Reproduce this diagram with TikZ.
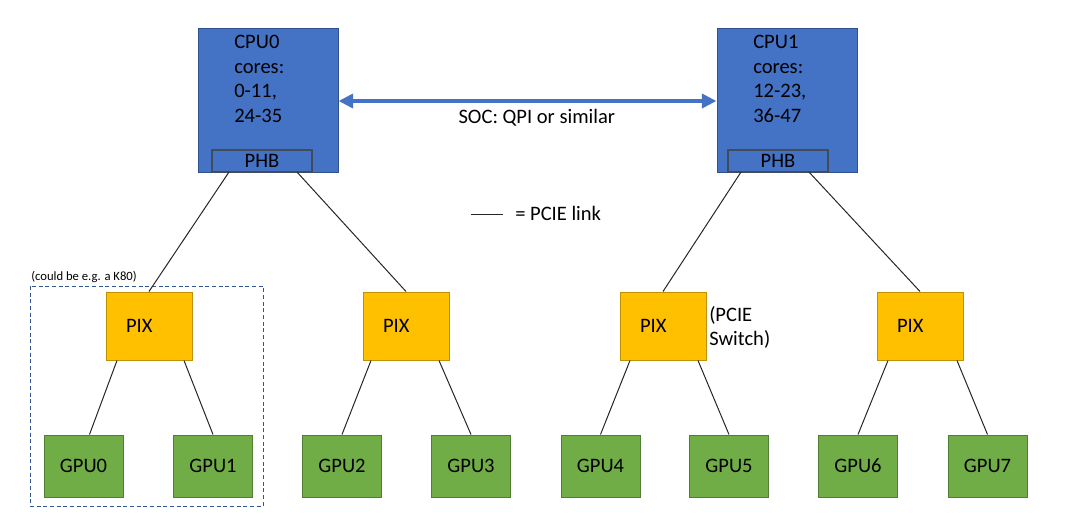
\documentclass[tikz,border=0pt]{standalone}
\usepackage{fontspec}
\setmainfont{Carlito}
\usepackage{tikz}
\usetikzlibrary{arrows.meta,calc,positioning}
\definecolor{cpublue}{HTML}{4472C4}
\definecolor{cpuedge}{HTML}{2F528F}
\definecolor{phbgray}{HTML}{414B59}
\definecolor{pixfill}{HTML}{FFC000}
\definecolor{pixedge}{HTML}{BF9000}
\definecolor{gpufill}{HTML}{70AD47}
\definecolor{gpuedge}{HTML}{507E32}
\definecolor{boxblue}{HTML}{2F5597}

\begin{document}
\begin{tikzpicture}[x=0.75pt, y=-0.75pt, font=\fontsize{15.4pt}{18.5pt}\selectfont,
    pix/.style={rectangle, draw=pixedge, fill=pixfill, line width=0.75pt, text width=34.5pt, inner xsep=15pt, align=left, minimum height=51pt},
    gpu/.style={rectangle, draw=gpuedge, fill=gpufill, line width=0.75pt, minimum width=59.25pt, minimum height=46.5pt},
    txt/.style={inner sep=0pt, align=left}]
   \useasboundingbox (0,0) rectangle (1065,517);
   % the two sockets
   \begin{scope}[every node/.style={rectangle, draw=cpuedge, fill=cpublue, line width=0.75pt, minimum width=105pt, minimum height=108pt}]
    \node (c0) at (268,101) {};
    \node (c1) at (787,101) {};
   \end{scope}
   \begin{scope}[every node/.style={rectangle, draw=phbgray, line width=1.5pt, outer sep=0pt, minimum width=75pt, minimum height=16.5pt}]
    \node (h0) at (262,161) {PHB};
    \node (h1) at (778,161) {PHB};
   \end{scope}
   \node (t0) [txt, anchor=north west] at (234,35) {CPU0\\cores:\\0-11,\\24-35};
   \node (t1) [txt, anchor=north west] at (753,35) {CPU1\\cores:\\12-23,\\36-47};
   % switches
   \node (x0) [pix] at (149,326) {PIX};
   \node (x1) [pix] at (406,326) {PIX};
   \node (x2) [pix] at (663,326) {PIX};
   \node (x3) [pix] at (920,326) {PIX};
   \node (sw) [txt, anchor=north west] at (709,306) {(PCIE\\Switch)};
   % gpus
   \node (g0) [gpu] at (83.5,466) {GPU0};
   \node (g1) [gpu] at (213,466) {GPU1};
   \node (g2) [gpu] at (342,466) {GPU2};
   \node (g3) [gpu] at (471,466) {GPU3};
   \node (g4) [gpu] at (600.5,466) {GPU4};
   \node (g5) [gpu] at (729,466) {GPU5};
   \node (g6) [gpu] at (858,466) {GPU6};
   \node (g7) [gpu] at (987.5,466) {GPU7};
   % dual gpu board
   \draw[boxblue, line width=0.75pt, dash pattern=on 3pt off 2pt] (30,286) rectangle (263,506);
   \node (k80) [txt, anchor=west, font=\fontsize{9.5pt}{11pt}\selectfont] at (31,277) {(could be e.g. a K80)};
   % socket link
   \draw[cpublue, line width=2.8pt, {Triangle[length=11pt,width=10.5pt]}-{Triangle[length=11pt,width=10.5pt]}]
     (c0.east) -- node[below=5pt, xshift=7pt, inner sep=0pt, text=black]{SOC: QPI or similar} (c1.west);
   % legend
   \coordinate (l1) at (471,214);
   \coordinate (l2) at (503,214);
   \node (leg) [txt, anchor=west] at (515,213) {= PCIE link};
   \draw[black!85, line width=0.75pt] (l1) -- (l2);
   \begin{scope}[every edge/.style={draw=black!85, line width=0.75pt}]
    \draw ($(h0.south)+(-33,0)$) edge (x0.north);
    \draw ($(h0.south)+(35,0)$) edge (x1.north);
    \draw ($(h1.south)+(-37,0)$) edge (x2.north);
    \draw ($(h1.south)+(31,0)$) edge (x3.north);
    \draw ($(x0.south)+(-32,0)$) edge ($(g0.north)+(6,0)$);
    \draw ($(x0.south)+(35,0)$) edge (g1.north);
    \draw ($(x1.south)+(-35,0)$) edge (g2.north);
    \draw ($(x1.south)+(33,0)$) edge (g3.north);
    \draw ($(x2.south)+(-33,0)$) edge (g4.north);
    \draw ($(x2.south)+(35,0)$) edge (g5.north);
    \draw ($(x3.south)+(-32,0)$) edge (g6.north);
    \draw ($(x3.south)+(37,0)$) edge (g7.north);
   \end{scope}
\end{tikzpicture}
\end{document}
